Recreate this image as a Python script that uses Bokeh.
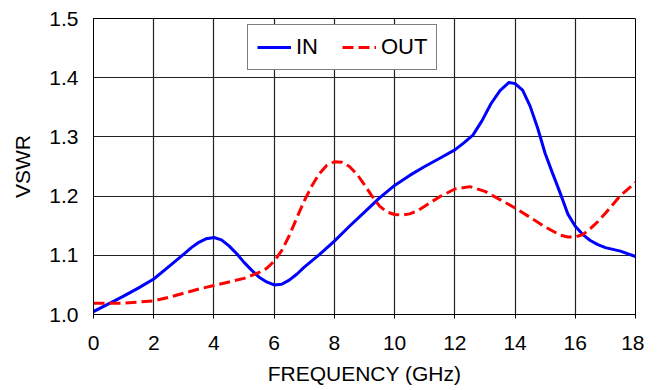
from bokeh.plotting import figure
from bokeh.models import Range1d, FixedTicker, Legend, LegendItem
from bokeh.embed import file_html
from bokeh.resources import INLINE

freq_in = [0, 0.5, 1.0, 1.5, 2.0, 2.5, 3.0, 3.25, 3.5, 3.75, 4.0, 4.25, 4.5, 4.75,
           5.0, 5.25, 5.5, 5.75, 6.0, 6.25, 6.5, 6.75, 7.0, 7.5, 8.0, 8.5, 9.0,
           9.5, 10.0, 10.5, 11.0, 11.5, 12.0, 12.3, 12.6, 12.9, 13.2, 13.5, 13.8,
           14.0, 14.25, 14.5, 14.75, 15.0, 15.25, 15.5, 15.75, 16.0, 16.25, 16.5,
           16.75, 17.0, 17.5, 18.0]
vswr_in = [1.005, 1.018, 1.031, 1.045, 1.060, 1.081, 1.102, 1.113, 1.122, 1.128,
           1.130, 1.126, 1.116, 1.103, 1.088, 1.075, 1.063, 1.055, 1.050, 1.051,
           1.058, 1.068, 1.080, 1.101, 1.124, 1.149, 1.173, 1.197, 1.218, 1.235,
           1.250, 1.264, 1.278, 1.290, 1.303, 1.327, 1.356, 1.378, 1.392, 1.390,
           1.379, 1.352, 1.315, 1.272, 1.238, 1.205, 1.170, 1.149, 1.135, 1.125,
           1.118, 1.113, 1.107, 1.098]
freq_out = [0, 0.5, 1.0, 1.5, 2.0, 2.5, 3.0, 3.5, 4.0, 4.5, 5.0, 5.5, 5.75, 6.0,
            6.25, 6.5, 6.75, 7.0, 7.25, 7.5, 7.75, 8.0, 8.25, 8.5, 8.75, 9.0,
            9.25, 9.5, 9.75, 10.0, 10.25, 10.5, 10.75, 11.0, 11.5, 12.0, 12.5,
            13.0, 13.5, 14.0, 14.5, 15.0, 15.5, 15.75, 16.0, 16.25, 16.5, 16.75,
            17.0, 17.5, 18.0]
vswr_out = [1.019, 1.019, 1.019, 1.021, 1.023, 1.029, 1.036, 1.043, 1.049, 1.055,
            1.061, 1.071, 1.078, 1.090, 1.108, 1.133, 1.163, 1.192, 1.217, 1.238,
            1.252, 1.258, 1.257, 1.250, 1.237, 1.219, 1.200, 1.183, 1.173, 1.169,
            1.168, 1.170, 1.175, 1.183, 1.199, 1.212, 1.216, 1.208, 1.194, 1.180,
            1.164, 1.148, 1.134, 1.131, 1.131, 1.135, 1.145, 1.157, 1.171, 1.201,
            1.223]
x_ticks = [0, 2, 4, 6, 8, 10, 12, 14, 16, 18]
y_ticks = [1.0, 1.1, 1.2, 1.3, 1.4, 1.5]

FONT = "Liberation Sans"

p = figure(width=644, height=390, output_backend="svg", toolbar_location=None,
           x_range=Range1d(0, 18), y_range=Range1d(1.0, 1.5),
           min_border_left=93, min_border_right=9, min_border_top=18,
           min_border_bottom=76)

p.outline_line_color = "black"
p.outline_line_width = 1

for ax in (p.xaxis[0], p.yaxis[0]):
    ax.major_label_text_font = FONT
    ax.major_label_text_font_size = "21px"
    ax.major_label_text_color = "black"
    ax.axis_label_text_font = FONT
    ax.axis_label_text_font_size = "21px"
    ax.axis_label_text_font_style = "normal"
    ax.axis_label_text_color = "black"
    ax.minor_tick_line_color = None
    ax.axis_line_color = "black"
    ax.major_tick_line_color = "black"

p.xaxis.ticker = FixedTicker(ticks=x_ticks)
p.yaxis.ticker = FixedTicker(ticks=y_ticks)
p.yaxis.major_label_overrides = {v: f"{v:.1f}" for v in y_ticks}
p.xaxis.axis_label = "FREQUENCY (GHz)"
p.yaxis.axis_label = "VSWR"
p.xaxis.major_tick_out = 4
p.xaxis.major_tick_in = 0
p.yaxis.major_tick_out = 0
p.yaxis.major_tick_in = 0
p.xaxis.major_label_standoff = 17
p.xaxis.axis_label_standoff = 9
p.yaxis.major_label_standoff = 15
p.yaxis.axis_label_standoff = 12

p.xgrid.ticker = FixedTicker(ticks=x_ticks)
p.ygrid.ticker = FixedTicker(ticks=y_ticks)
for g in (p.xgrid[0], p.ygrid[0]):
    g.grid_line_color = "#222222"
    g.grid_line_width = 1.2

r_in = p.line(freq_in, vswr_in, line_color="#0000FF", line_width=3,
              line_join="round")
r_out = p.line(freq_out, vswr_out, line_color="#FF0000", line_width=3,
               line_dash="11 5", line_join="round")

legend = Legend(items=[LegendItem(label="IN", renderers=[r_in]),
                       LegendItem(label="OUT", renderers=[r_out])],
                orientation="horizontal", location=(154, 244))
legend.label_text_font = FONT
legend.label_text_font_size = "22px"
legend.label_text_color = "black"
legend.glyph_width = 34
legend.glyph_height = 20
legend.label_standoff = 5
legend.spacing = 24
legend.padding = 9
legend.margin = 0
legend.border_line_color = "black"
legend.border_line_width = 1
legend.background_fill_alpha = 1
p.add_layout(legend, "center")

open("out.html", "w").write(file_html(p, INLINE))
